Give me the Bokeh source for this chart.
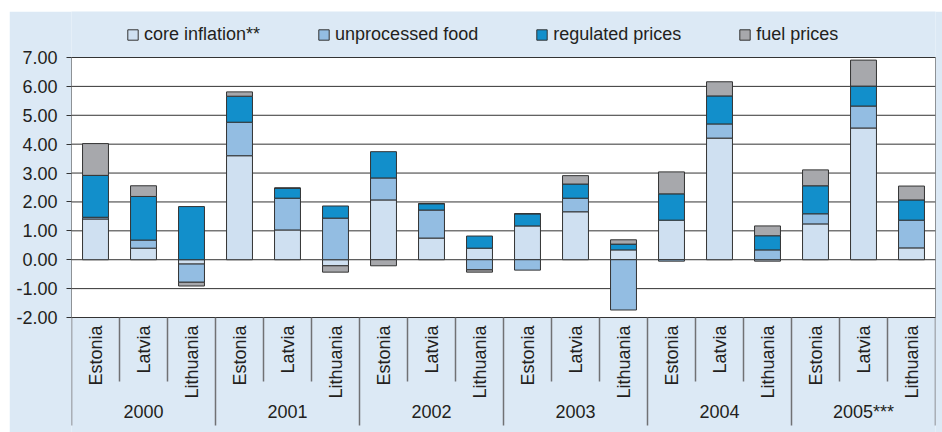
import math
from bokeh.plotting import figure
from bokeh.layouts import column, row
from bokeh.models import (FactorRange, Range1d, ColumnDataSource, FixedTicker,
                          NumeralTickFormatter, Legend, LegendItem, Spacer)
from bokeh.core.properties import value
from bokeh.embed import file_html
from bokeh.resources import INLINE

# ---------------- data ----------------
years = ["2000", "2001", "2002", "2003", "2004", "2005***"]
countries = ["Estonia", "Latvia", "Lithuania"]
series_names = ["core inflation**", "unprocessed food", "regulated prices", "fuel prices"]

# order: 2000 Est, Lat, Lit, 2001 Est, Lat, Lit, ...
core      = [1.41, 0.40, -0.15,  3.60, 1.03, -0.21,  2.07, 0.75, 0.40,  1.17, 1.66, 0.34,  1.37, 4.21, -0.05,  1.24, 4.56, 0.41]
food      = [0.06, 0.28, -0.63,  1.16, 1.10,  1.44,  0.76, 0.97, -0.35, -0.36, 0.47, -1.74, -0.05, 0.49, 0.34,  0.35, 0.76, 0.96]
regulated = [1.45, 1.51,  1.84,  0.90, 0.35,  0.42,  0.91, 0.22, 0.42,  0.42, 0.49, 0.20,  0.91, 0.97, 0.49,  0.97, 0.69, 0.70]
fuel      = [1.10, 0.37, -0.13,  0.15, 0.00, -0.22, -0.21, 0.00, -0.08,  0.00, 0.29, 0.15,  0.76, 0.49, 0.34,  0.55, 0.90, 0.48]

y_ticks = [-2, -1, 0, 1, 2, 3, 4, 5, 6, 7]

colors = ["#cfe0f1", "#93bde2", "#128fcb", "#a7a8ac"]
BG = "#dce9f5"
DARK = "#333333"
SEP = "#707174"
TXT = "#231f20"
FONT = "Liberation Sans"
FS = "18px"

# ---------------- layout ----------------
OFF_X, OFF_Y = 9, 11        # white margin around the chart panel
W, H = 942 - OFF_X, 432 - OFF_Y
PX = 260 / 9.0              # pixels per unit on the value axis
FRAME_TOP_PX = 57 - OFF_Y   # 7.00 gridline below the figure top
ytop = y_ticks[-1] + FRAME_TOP_PX / PX
ybot = y_ticks[0] - (H - (FRAME_TOP_PX + 260)) / PX

def ypix(px_abs):
    return ytop - (px_abs - OFF_Y) / PX

factors = [(y, c) for y in years for c in countries]
N = len(factors)

p = figure(width=W, height=H,
           x_range=FactorRange(factors=factors, group_padding=0, subgroup_padding=0,
                               factor_padding=0, range_padding=0),
           y_range=Range1d(ybot, ytop),
           x_axis_location=None,
           output_backend="svg", toolbar_location=None,
           min_border_left=71 - OFF_X, min_border_right=7, min_border_top=0, min_border_bottom=0)
p.background_fill_color = BG
p.border_fill_color = BG
p.outline_line_color = None
p.xgrid.visible = False
p.ygrid.visible = False

ax = p.yaxis[0]
ax.ticker = FixedTicker(ticks=y_ticks)
ax.formatter = NumeralTickFormatter(format="0.00")
ax.axis_line_color = None
ax.major_tick_in = 0
ax.major_tick_out = 5
ax.major_tick_line_color = DARK
ax.minor_tick_line_color = None
ax.major_label_standoff = 9
ax.major_label_text_font = FONT
ax.major_label_text_font_size = FS
ax.major_label_text_color = TXT

# plot area
p.quad(left=0, right=N, bottom=y_ticks[0], top=y_ticks[-1], fill_color="white", line_color=None)
p.segment(x0=[0] * len(y_ticks), x1=[N] * len(y_ticks), y0=y_ticks, y1=y_ticks,
          line_color=DARK, line_width=1)

# stacked bars (positives and negatives stacked separately)
series = [core, food, regulated, fuel]
pos = [0.0] * N
neg = [0.0] * N
renderers = []
for vals, col in zip(series, colors):
    bottoms, tops = [], []
    for i, v in enumerate(vals):
        if v >= 0:
            bottoms.append(pos[i]); tops.append(pos[i] + v); pos[i] += v
        else:
            tops.append(neg[i]); bottoms.append(neg[i] + v); neg[i] += v
    src = ColumnDataSource(dict(x=factors, bottom=bottoms, top=tops))
    r = p.vbar(x="x", width=0.54, bottom="bottom", top="top", source=src,
               fill_color=col, line_color=DARK, line_width=1)
    renderers.append(r)

# frame border
p.quad(left=0, right=N, bottom=y_ticks[0], top=y_ticks[-1], fill_color=None,
       line_color=DARK, line_width=1)

# category separators
short_x = [i for i in range(1, N) if i % 3 != 0]
long_x = [i for i in range(0, N + 1) if i % 3 == 0]
p.segment(x0=short_x, x1=short_x, y0=[y_ticks[0]] * len(short_x), y1=[ypix(381)] * len(short_x),
          line_color=SEP, line_width=1.5)
p.segment(x0=long_x, x1=long_x, y0=[y_ticks[0]] * len(long_x), y1=[ypix(425)] * len(long_x),
          line_color=SEP, line_width=1.5)

# country labels
p.text(x=factors, y=[ypix(325)] * N, text=[c for (_, c) in factors], angle=math.pi / 2,
       text_align="right", text_baseline="middle", text_font=value(FONT),
       text_font_size=FS, text_color=TXT)
# year labels
p.text(x=[(y, countries[1]) for y in years], y=[ypix(411)] * len(years), text=years,
       text_align="center", text_baseline="middle", text_font=value(FONT),
       text_font_size=FS, text_color=TXT)

legend = Legend(items=[LegendItem(label=n, renderers=[r]) for n, r in zip(series_names, renderers)],
                orientation="horizontal", location=(55, H - (34 - OFF_Y) - 11),
                glyph_width=13, glyph_height=13, label_height=13, label_standoff=5,
                spacing=57, padding=0, margin=0, border_line_color=None,
                background_fill_alpha=0, label_text_font=FONT, label_text_font_size=FS,
                label_text_color=TXT)
p.add_layout(legend)

page = column(Spacer(height=OFF_Y), row(Spacer(width=OFF_X), p, spacing=0), spacing=0)

open("out.html", "w").write(file_html(page, INLINE))
